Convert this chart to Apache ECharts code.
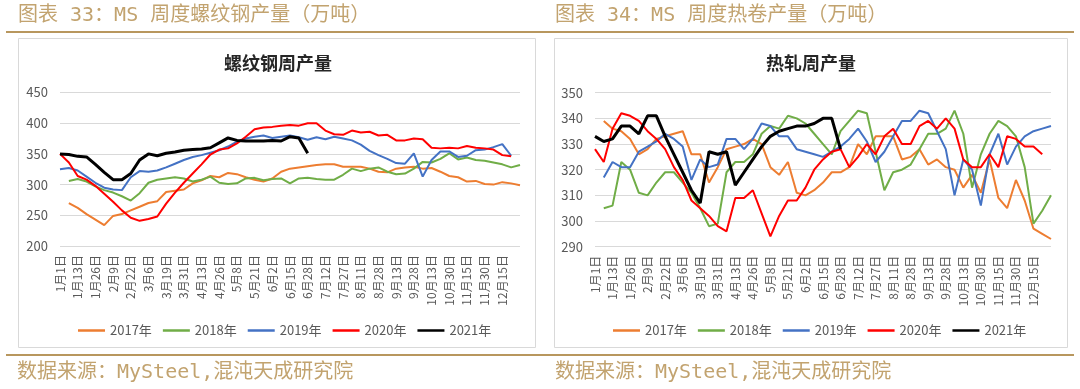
<!DOCTYPE html>
<html><head><meta charset="utf-8">
<script src="https://cdn.jsdelivr.net/npm/echarts@6/dist/echarts.min.js"></script>
<style>html,body{margin:0;padding:0;background:#fff}#c{width:1080px;height:389px}</style>
</head><body><div id="c"></div>
<script>
const categories = ['1月1日','1月7日','1月13日','1月19日','1月26日','2月2日','2月9日','2月15日','2月22日','2月28日','3月6日','3月12日','3月19日','3月25日','3月31日','4月6日','4月13日','4月19日','4月26日','5月2日','5月8日','5月14日','5月21日','5月27日','6月2日','6月8日','6月15日','6月21日','6月28日','7月5日','7月12日','7月19日','7月27日','8月3日','8月11日','8月19日','8月28日','9月5日','9月13日','9月20日','9月28日','10月5日','10月13日','10月21日','10月30日','11月7日','11月15日','11月22日','11月30日','12月7日','12月15日','12月22日','12月29日'];
const seriesNames = ['2017年','2018年','2019年','2020年','2021年'];
// 螺纹钢周产量
const rebar2017 = [null,270,262,252,243,234,249,252,258,264,270,273,288,290,292,302,307,314,312,319,317,312,308,305,310,321,326,328,330,332,333,333,329,329,329,326,321,320,326,328,329,326,327,321,314,312,305,306,301,300,304,302,299];
const rebar2018 = [null,306,309,305,297,291,287,281,274,286,303,308,310,312,310,305,308,313,303,301,302,310,311,307,309,310,302,310,311,309,308,308,316,326,322,326,328,321,317,318,326,337,336,342,351,341,344,340,339,336,333,328,332];
const rebar2019 = [325,327,323,313,303,295,292,291,312,322,321,323,328,334,340,345,348,352,356,362,370,375,378,380,376,378,380,377,373,377,374,378,375,372,365,355,348,342,335,334,351,313,340,354,354,345,347,356,357,361,366,347];
const rebar2020 = [350,336,314,308,298,285,272,258,246,241,244,248,269,287,303,318,333,349,357,359,367,378,390,393,394,396,397,396,400,400,388,382,381,388,385,386,380,381,372,372,375,374,360,359,360,359,363,360,359,357,348,346];
const rebar2021 = [350,349,346,345,333,320,308,308,318,340,350,347,351,353,356,357,358,360,368,376,372,371,371,371,372,371,378,376,351];
// 热轧周产量
const hrc2017 = [null,339,336,335,332,326,328,332,333,334,335,326,326,315,321,328,329,330,332,330,321,318,323,311,310,312,315,319,319,321,330,326,333,333,333,324,325,328,322,324,321,320,313,318,311,324,309,305,316,308,297,295,293];
const hrc2018 = [null,305,306,323,320,311,310,315,319,319,315,311,305,298,299,319,323,323,326,334,337,336,341,340,338,334,330,326,335,339,343,342,327,312,319,320,322,328,334,334,336,343,334,313,326,334,339,337,333,321,299,304,310];
const hrc2019 = [null,317,323,321,321,327,329,331,334,332,329,316,324,321,322,332,332,328,332,338,337,333,333,328,327,326,325,327,329,332,336,331,323,327,333,339,339,343,342,335,328,310,324,320,306,326,334,322,329,333,335,336,337];
const hrc2020 = [328,323,336,342,341,339,335,332,328,321,316,308,305,302,298,296,309,309,312,303,294,302,308,308,313,320,324,327,328,321,325,330,326,333,336,330,330,337,339,336,340,336,324,321,321,326,321,333,332,329,329,326];
const hrc2021 = [333,331,332,337,337,334,341,341,333,326,319,312,307,327,326,327,314,319,324,329,333,335,336,337,337,338,340,340,328];
const rebarTicks = {min:200, max:450, interval:50};
const hrcTicks = {min:290, max:350, interval:10};

const FONT = '"Noto Sans CJK SC","Microsoft YaHei",sans-serif';
const HFONT = '"DejaVu Sans Mono","Noto Sans CJK SC",monospace';
const lineColors = ['#ED7D31','#70AD47','#4472C4','#FF0000','#000000'];
const lineWidths = [2,2,2,2,3];
const GOLD = '#b8975e';
const GOLDTXT = '#c2a36f';
const GRAY = '#595959';

const chart = echarts.init(document.getElementById('c'));

function xAxis(gi){
  return {type:'category', gridIndex:gi, data:categories, boundaryGap:false,
    axisLine:{show:false}, axisTick:{show:false},
    axisLabel:{rotate:90, interval:function(i){return i % 2 === 0 && i <= 50;}, fontSize:12, color:GRAY, fontFamily:FONT, margin:9}};
}
function yAxis(gi, t){
  return {type:'value', gridIndex:gi, min:t.min, max:t.max, interval:t.interval,
    axisLine:{show:false}, axisTick:{show:false},
    splitLine:{lineStyle:{color:'#d9d9d9', width:1}},
    axisLabel:{fontSize:13, color:GRAY, fontFamily:FONT, margin:12}};
}
const leftData = [rebar2017, rebar2018, rebar2019, rebar2020, rebar2021];
const rightData = [hrc2017, hrc2018, hrc2019, hrc2020, hrc2021];
const series = [];
[leftData, rightData].forEach((set, gi) => {
  set.forEach((d, k) => {
    series.push({type:'line', name:seriesNames[k], data:d, xAxisIndex:gi, yAxisIndex:gi,
      symbol:'none', showSymbol:false, legendIcon:'rect', connectNulls:false,
      lineStyle:{color:lineColors[k], width:lineWidths[k]}, itemStyle:{color:lineColors[k]},
      z: 2 + k});
  });
});

function legend(left){
  return {left:left, top:319, itemWidth:27, itemHeight:2.5, itemGap:11, data:seriesNames,
    icon:'rect', textStyle:{fontSize:13, color:GRAY, fontFamily:FONT}, selectedMode:false};
}

chart.setOption({
  animation:false,
  grid:[
    {left:60, top:92.5, width:460, height:153.5, containLabel:false},
    {left:595, top:92.7, width:456, height:154, containLabel:false}
  ],
  xAxis:[xAxis(0), xAxis(1)],
  yAxis:[yAxis(0, rebarTicks), yAxis(1, hrcTicks)],
  legend:[legend(73), legend(608)],
  series:series,
  graphic:[
    {type:'line', shape:{x1:6,y1:32,x2:1074,y2:32}, style:{stroke:GOLD, lineWidth:2}, silent:true},
    {type:'line', shape:{x1:6,y1:355,x2:1074,y2:355}, style:{stroke:GOLD, lineWidth:2}, silent:true},
    {type:'rect', shape:{x:18.5,y:38.5,width:517,height:309}, style:{fill:null, stroke:'#d9d9d9', lineWidth:1}, silent:true},
    {type:'rect', shape:{x:554.5,y:38.5,width:513,height:309}, style:{fill:null, stroke:'#d9d9d9', lineWidth:1}, silent:true},
    {type:'text', x:18, y:16, style:{text:'图表 33：MS 周度螺纹钢产量（万吨）', fill:GOLDTXT, font:'20px '+HFONT, textVerticalAlign:'middle'}, silent:true},
    {type:'text', x:555, y:16, style:{text:'图表 34：MS 周度热卷产量（万吨）', fill:GOLDTXT, font:'20px '+HFONT, textVerticalAlign:'middle'}, silent:true},
    {type:'text', x:17, y:373, style:{text:'数据来源：MySteel,混沌天成研究院', fill:GOLDTXT, font:'20px '+HFONT, textVerticalAlign:'middle'}, silent:true},
    {type:'text', x:555, y:373, style:{text:'数据来源：MySteel,混沌天成研究院', fill:GOLDTXT, font:'20px '+HFONT, textVerticalAlign:'middle'}, silent:true},
    {type:'text', x:278, y:63, style:{text:'螺纹钢周产量', fill:'#262626', font:'bold 18px '+FONT, textAlign:'center', textVerticalAlign:'middle'}, silent:true},
    {type:'text', x:811, y:63, style:{text:'热轧周产量', fill:'#262626', font:'bold 18px '+FONT, textAlign:'center', textVerticalAlign:'middle'}, silent:true}
  ]
});
</script></body></html>
